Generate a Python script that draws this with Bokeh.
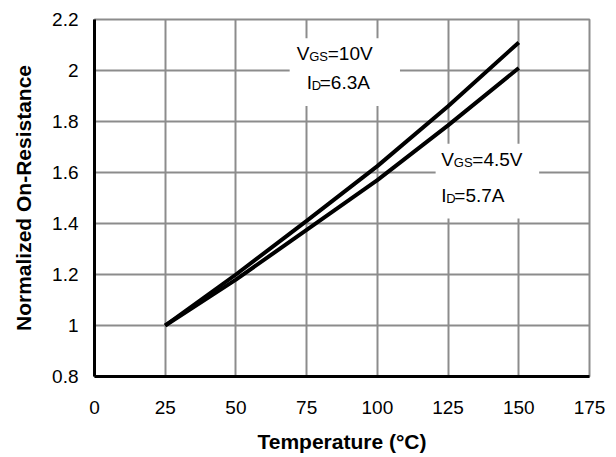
from bokeh.plotting import figure
from bokeh.models import FixedTicker, Label, BoxAnnotation
from bokeh.embed import file_html
from bokeh.resources import INLINE

# ---- data ----
temperature = [25, 50, 75, 100, 125, 150]
r_vgs10 = [1.0, 1.20, 1.41, 1.625, 1.86, 2.11]
r_vgs45 = [1.0, 1.18, 1.375, 1.57, 1.785, 2.01]

x_ticks = [0, 25, 50, 75, 100, 125, 150, 175]
y_ticks = [0.8, 1.0, 1.2, 1.4, 1.6, 1.8, 2.0, 2.2]
y_tick_labels = ["0.8", "1", "1.2", "1.4", "1.6", "1.8", "2", "2.2"]

x_title = "Temperature (°C)"
y_title = "Normalized On-Resistance"

ann_10v = [("V", "GS", "=10V"), ("I", "D", "=6.3A")]
ann_45v = [("V", "GS", "=4.5V"), ("I", "D", "=5.7A")]

FONT = "Liberation Sans"
GRID = "#8c8c8c"

p = figure(width=616, height=457, output_backend="svg", toolbar_location=None,
           x_range=(0, 175), y_range=(0.8, 2.2),
           min_border_left=94, min_border_right=27, min_border_top=19, min_border_bottom=81)

p.outline_line_color = GRID
p.outline_line_width = 2

for ax in (p.xaxis, p.yaxis):
    ax.axis_line_color = "black"
    ax.axis_line_width = 3
    ax.major_tick_out = 0
    ax.major_tick_in = 0
    ax.minor_tick_out = 0
    ax.minor_tick_in = 0
    ax.major_label_text_font = FONT
    ax.major_label_text_font_size = "19px"
    ax.major_label_text_color = "black"
    ax.axis_label_text_font = FONT
    ax.axis_label_text_font_size = "21px"
    ax.axis_label_text_font_style = "bold"
    ax.axis_label_text_color = "black"

p.xaxis.ticker = FixedTicker(ticks=x_ticks)
p.yaxis.ticker = FixedTicker(ticks=y_ticks)
p.yaxis.major_label_overrides = {t: l for t, l in zip(y_ticks, y_tick_labels)}
p.xaxis.major_label_standoff = 24
p.yaxis.major_label_standoff = 16
p.xaxis.axis_label = x_title
p.yaxis.axis_label = y_title
p.xaxis.axis_label_standoff = 13
p.yaxis.axis_label_standoff = 14

p.xgrid.ticker = FixedTicker(ticks=x_ticks)
p.ygrid.ticker = FixedTicker(ticks=y_ticks)
for g in (p.xgrid, p.ygrid):
    g.grid_line_color = GRID
    g.grid_line_width = 2

# white boxes behind annotation texts
p.add_layout(BoxAnnotation(left=69, right=108, bottom=1.861, top=2.126,
                           fill_color="white", fill_alpha=1, line_alpha=0, level="underlay"))
p.add_layout(BoxAnnotation(left=120.6, right=157.2, bottom=1.42, top=1.713,
                           fill_color="white", fill_alpha=1, line_alpha=0, level="underlay"))

p.line(temperature, r_vgs10, line_color="black", line_width=4)
p.line(temperature, r_vgs45, line_color="black", line_width=4)


def add_ann(x, ys, lines, base_dx, sub_dx, rest_dx):
    for (main, sub, rest), y, bdx, sdx, rdx in zip(lines, ys, base_dx, sub_dx, rest_dx):
        common = dict(x=x, y=y, text_font=FONT, text_color="black",
                      text_baseline="alphabetic", text_align="left")
        p.add_layout(Label(text=main, text_font_size="19px", x_offset=bdx, **common))
        p.add_layout(Label(text=sub, text_font_size="13px", x_offset=bdx + sdx, y_offset=-3, **common))
        p.add_layout(Label(text=rest, text_font_size="19px", x_offset=bdx + rdx, **common))


add_ann(71.5, [2.066, 1.953], ann_10v, [0, 10], [12.5, 5], [31, 13])
add_ann(122.6, [1.650, 1.510], ann_45v, [0, 0], [12.5, 5], [31, 13])

open("out.html", "w").write(file_html(p, INLINE))
